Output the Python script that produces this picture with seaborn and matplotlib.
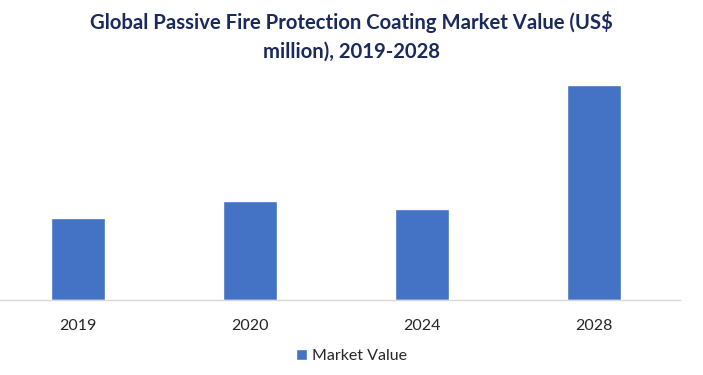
import matplotlib
matplotlib.use("Agg")
import matplotlib.pyplot as plt
import seaborn as sns
import pandas as pd

# chart data (relative bar heights)
years = ["2019", "2020", "2024", "2028"]
market_value = [82, 99, 91, 215]

TITLE = "Global Passive Fire Protection Coating Market Value (US$\nmillion), 2019-2028"
BAR_COLOR = "#4472C4"
TITLE_COLOR = "#1B2A5C"

sns.set_theme(style="white")
plt.rcParams["font.family"] = ["Lato", "DejaVu Sans"]

df = pd.DataFrame({"year": years, "value": market_value})

fig = plt.figure(figsize=(7.03, 3.75), dpi=100)
ax = fig.add_axes([0.0, (375 - 300) / 375, 680 / 703, (300 - 75) / 375])

sns.barplot(data=df, x="year", y="value", color=BAR_COLOR, width=0.31,
            saturation=1, ax=ax, label="Market Value")

ax.set_xlim(-78 / 172, 3.5)
ax.set_ylim(0, 225)
ax.set_xlabel("")
ax.set_ylabel("")
ax.set_yticks([])
for s in ["top", "right", "left"]:
    ax.spines[s].set_visible(False)
ax.spines["bottom"].set_color("#D9D9D9")
ax.spines["bottom"].set_linewidth(1.0)
ax.tick_params(axis="x", length=0, pad=14, labelsize=11.5, labelcolor="#262626")

fig.text(0.5, 0.903, TITLE, ha="center", va="center", fontsize=14.6,
         fontweight="bold", color=TITLE_COLOR, linespacing=1.5)

leg = ax.legend(loc="center", bbox_to_anchor=(0.5 * 703 / 680, -0.25),
                frameon=False, fontsize=11.5, handlelength=0.7, handleheight=0.7,
                handletextpad=0.3)
for t in leg.get_texts():
    t.set_color("#262626")

fig.savefig("out.png", dpi=100)
